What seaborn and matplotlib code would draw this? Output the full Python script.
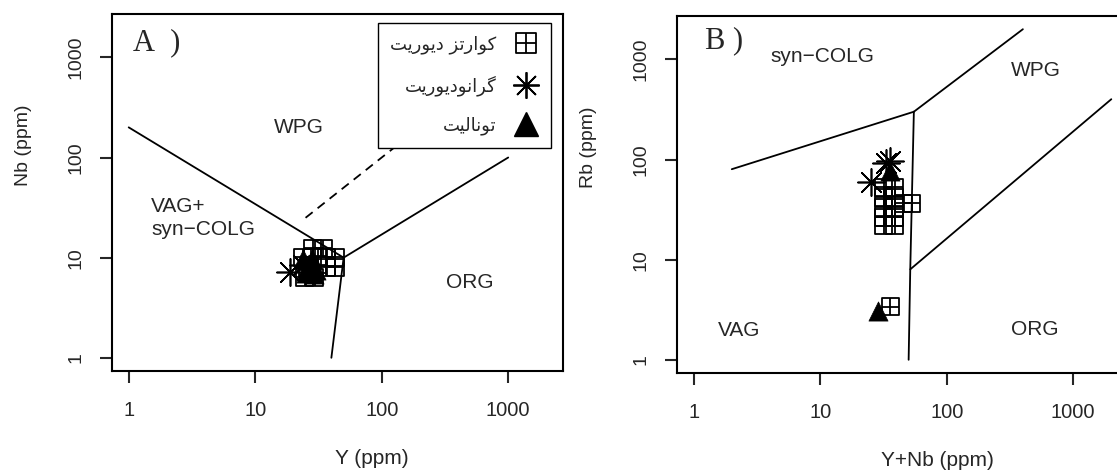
import numpy as np
import pandas as pd
import matplotlib
matplotlib.use("Agg")
import matplotlib.pyplot as plt
from matplotlib.path import Path
from matplotlib.lines import Line2D
import seaborn as sns

# ---------------------------------------------------------------- data
rock_types = ["کوارتز دیوریت", "گرانودیوریت", "تونالیت"]

# Panel A: Nb vs Y (ppm)
qd_y = [28.5, 34.5, 23.7, 28.5, 36.4, 43.0, 36.4, 43.0, 24.6, 29.5, 31.0, 26.0]
qd_nb = [12.4, 12.4, 10.1, 10.1, 10.1, 10.1, 8.0, 8.0, 6.4, 6.4, 8.5, 7.5]
gd_y = [18.7, 24.0]
gd_nb = [7.2, 8.5]
tn_y = [24.0, 28.0, 26.0, 30.0, 25.0, 29.0]
tn_nb = [9.8, 9.8, 8.2, 7.6, 7.0, 6.8]

# Panel B: Rb vs Y+Nb (ppm)
qd_ynb = [31.8, 38.8, 31.8, 38.8, 45.6, 53.0, 31.8, 38.8, 31.8, 38.8, 31.8, 38.8, 35.9]
qd_rb = [52.7, 52.7, 41.9, 41.9, 36.7, 36.7, 33.3, 33.3, 26.5, 26.5, 21.8, 21.8, 3.4]
gd_ynb = [35.9, 33.0, 25.0]
gd_rb = [97.0, 92.0, 59.0]
tn_ynb = [35.9, 28.8]
tn_rb = [77.0, 3.1]

# Discrimination boundaries (Pearce et al., 1984)
a_bounds = [
    ([1, 50], [200, 10]),
    ([50, 1000], [10, 100]),
    ([50, 40], [10, 1]),
]
a_dashed = ([25, 1000], [25, 1000])
b_bounds = [
    ([2, 55], [80, 300]),
    ([55, 400], [300, 2000]),
    ([55, 51.5, 50], [300, 8, 1]),
    ([51.5, 2000], [8, 400]),
]

tick_values = [1, 10, 100, 1000]
tick_labels = ["1", "10", "100", "1000"]

# ------------------------------------------------ Persian text shaping
# (isolated, final, initial, medial) presentation forms
_FORMS = {
    "\u0627": ("\uFE8D", "\uFE8E", None, None),      # alef
    "\u062A": ("\uFE95", "\uFE96", "\uFE97", "\uFE98"),  # teh
    "\u062F": ("\uFEA9", "\uFEAA", None, None),      # dal
    "\u0631": ("\uFEAD", "\uFEAE", None, None),      # reh
    "\u0632": ("\uFEAF", "\uFEB0", None, None),      # zain
    "\u0644": ("\uFEDD", "\uFEDE", "\uFEDF", "\uFEE0"),  # lam
    "\u0646": ("\uFEE5", "\uFEE6", "\uFEE7", "\uFEE8"),  # noon
    "\u0648": ("\uFEED", "\uFEEE", None, None),      # waw
    "\u06A9": ("\uFB8E", "\uFB8F", "\uFB90", "\uFB91"),  # keheh
    "\u06AF": ("\uFB92", "\uFB93", "\uFB94", "\uFB95"),  # gaf
    "\u06CC": ("\uFBFC", "\uFBFD", "\uFBFE", "\uFBFF"),  # farsi yeh
}


def shape_rtl(text):
    out = []
    n = len(text)
    for i, ch in enumerate(text):
        forms = _FORMS.get(ch)
        if forms is None:
            out.append(ch)
            continue
        prev = text[i - 1] if i > 0 else None
        nxt = text[i + 1] if i < n - 1 else None
        joins_prev = prev in _FORMS and _FORMS[prev][2] is not None
        dual = forms[2] is not None
        joins_next = dual and nxt in _FORMS
        if joins_prev and joins_next:
            out.append(forms[3])
        elif joins_prev:
            out.append(forms[1])
        elif joins_next:
            out.append(forms[2])
        else:
            out.append(forms[0])
    return "".join(reversed(out))


# ------------------------------------------------------------- styling
sns.set_style("ticks")
plt.rcParams["font.family"] = ["Liberation Sans", "DejaVu Sans"]
plt.rcParams["axes.linewidth"] = 1.5
plt.rcParams["xtick.major.width"] = 1.5
plt.rcParams["ytick.major.width"] = 1.5
plt.rcParams["xtick.major.size"] = 8.5
plt.rcParams["ytick.major.size"] = 8.5

# open square with a cross inside
qd_marker = Path(
    [(-1, -1), (1, -1), (1, 1), (-1, 1), (-1, -1),
     (0, -1), (0, 1), (-1, 0), (1, 0)],
    [Path.MOVETO, Path.LINETO, Path.LINETO, Path.LINETO, Path.CLOSEPOLY,
     Path.MOVETO, Path.LINETO, Path.MOVETO, Path.LINETO],
)
gd_marker = (8, 2, 0)
tn_marker = "^"

fig = plt.figure(figsize=(11.17, 4.72), dpi=100)
ax_a = fig.add_axes([112 / 1117, 101 / 472, 451 / 1117, 357 / 472])
ax_b = fig.add_axes([677 / 1117, 99 / 472, 451 / 1117, 357 / 472])

lo, hi = 10 ** -0.132, 10 ** 3.433


def setup_axes(ax, xlabel, ylabel):
    ax.set_xscale("log")
    ax.set_yscale("log")
    ax.set_xlim(lo, hi)
    ax.set_ylim(lo, hi)
    ax.set_xticks(tick_values)
    ax.set_xticklabels(tick_labels)
    ax.set_yticks(tick_values)
    ax.set_yticklabels(tick_labels)
    ax.minorticks_off()
    ax.tick_params(axis="x", labelsize=14.5, pad=13)
    ax.tick_params(axis="y", labelsize=14, pad=11, labelrotation=90)
    for lab in ax.get_yticklabels():
        lab.set_va("center")
    ax.set_xlabel(xlabel, fontsize=15, va="center")
    ax.set_ylabel(ylabel, fontsize=14, va="center")
    ax.xaxis.set_label_coords(0.577, -0.244)
    ax.yaxis.set_label_coords(-0.197, 0.632)
    for sp in ax.spines.values():
        sp.set_visible(True)
        sp.set_color("black")


def draw_lines(ax, bounds):
    for xs, ys in bounds:
        sns.lineplot(x=xs, y=ys, sort=False, estimator=None, color="black",
                     linewidth=1.3, ax=ax)


def draw_points(ax, qx, qy, gx, gy, tx, ty):
    sns.scatterplot(x=qx, y=qy, marker=qd_marker, s=150, facecolor="none",
                    edgecolor="black", linewidth=1.3, ax=ax, zorder=3)
    sns.scatterplot(x=gx, y=gy, marker=gd_marker, s=380, color="black",
                    edgecolor="black", linewidth=1.2, ax=ax, zorder=4)
    sns.scatterplot(x=tx, y=ty, marker=tn_marker, s=190, color="black",
                    edgecolor="black", linewidth=0.5, ax=ax, zorder=5)


# -------------------------------------------------------------- panel A
setup_axes(ax_a, "Y (ppm)", "Nb (ppm)")
draw_lines(ax_a, a_bounds)
sns.lineplot(x=a_dashed[0], y=a_dashed[1], sort=False, estimator=None,
             color="black", linewidth=1.3, dashes=False, ax=ax_a)
ax_a.lines[-1].set_linestyle((0, (5, 3.5)))
draw_points(ax_a, qd_y, qd_nb, gd_y, gd_nb, tn_y, tn_nb)

panel_font = ["Liberation Serif", "Noto Sans CJK SC"]
ax_a.text(0.047, 0.919, "A\u2002)", transform=ax_a.transAxes, fontsize=22,
          family=panel_font, ha="left", va="center")
ax_a.text(22, 200, "WPG", fontsize=15, ha="center", va="center")
ax_a.text(1.5, 25, "VAG+\nsyn\u2212COLG", fontsize=15, ha="left",
          va="center", linespacing=1.25)
ax_a.text(500, 5.7, "ORG", fontsize=15, ha="center", va="center")

handles = [
    Line2D([], [], linestyle="none", marker=qd_marker, markersize=15,
           markerfacecolor="none", markeredgecolor="black",
           markeredgewidth=1.3),
    Line2D([], [], linestyle="none", marker=gd_marker, markersize=19,
           color="black", markeredgewidth=1.3),
    Line2D([], [], linestyle="none", marker=tn_marker, markersize=17,
           color="black"),
]
leg = ax_a.legend(handles, [shape_rtl(t) for t in rock_types],
                  loc="upper right", bbox_to_anchor=(0.973, 0.975),
                  borderaxespad=0, markerfirst=False, frameon=True,
                  fancybox=False, framealpha=1, edgecolor="black",
                  prop={"family": "DejaVu Sans", "size": 13},
                  handlelength=1.4, handletextpad=0.9, labelspacing=1.15,
                  borderpad=0.7)
leg.get_frame().set_linewidth(1.0)
leg.set_zorder(10)

# -------------------------------------------------------------- panel B
setup_axes(ax_b, "Y+Nb (ppm)", "Rb (ppm)")
draw_lines(ax_b, b_bounds)
draw_points(ax_b, qd_ynb, qd_rb, gd_ynb, gd_rb, tn_ynb, tn_rb)

ax_b.text(0.062, 0.93, "B )", transform=ax_b.transAxes, fontsize=22,
          family=panel_font, ha="left", va="center")
ax_b.text(10.4, 1074, "syn\u2212COLG", fontsize=15, ha="center", va="center")
ax_b.text(509, 778, "WPG", fontsize=15, ha="center", va="center")
ax_b.text(501, 2.0, "ORG", fontsize=15, ha="center", va="center")
ax_b.text(2.27, 1.95, "VAG", fontsize=15, ha="center", va="center")

fig.savefig("out.png", dpi=100)
